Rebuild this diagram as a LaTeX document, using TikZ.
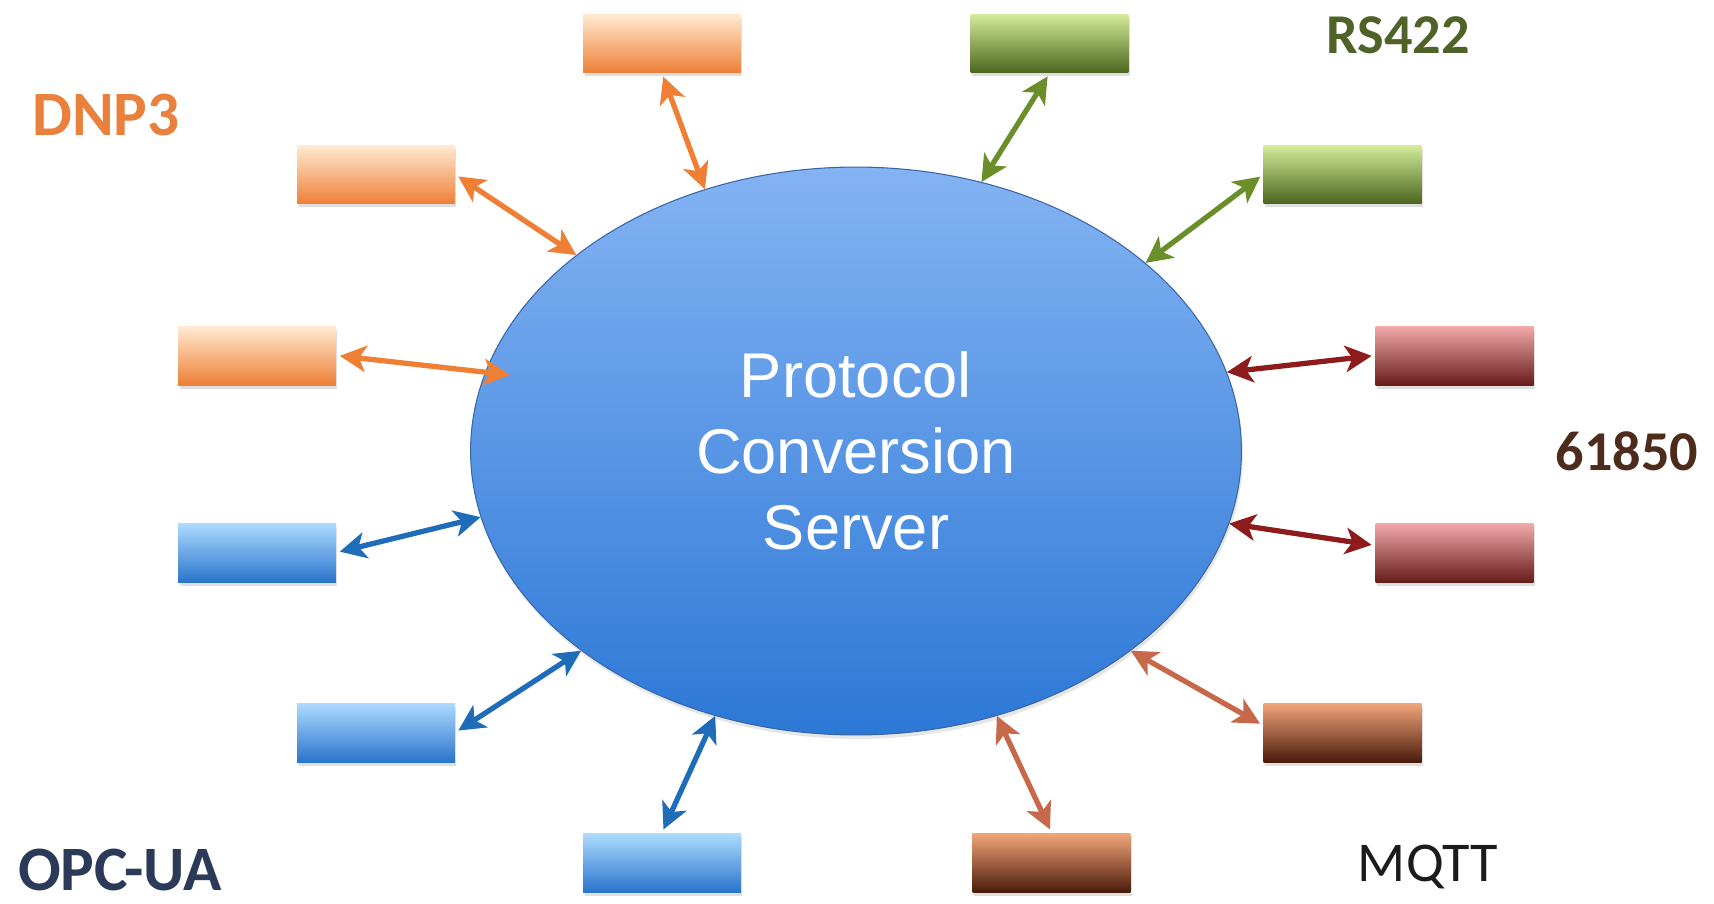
\documentclass[tikz,border=0pt]{standalone}
\usepackage{fontspec}
\usetikzlibrary{arrows.meta, shapes.geometric, shadows}
\newfontfamily\lblfont{Carlito}
\newfontfamily\srvfont{Liberation Sans}
\definecolor{srvTop}{HTML}{84B3F3}
\definecolor{srvBot}{HTML}{2C78D6}
\definecolor{srvEdge}{HTML}{3A66A8}
\definecolor{orTop}{HTML}{FFEBD2}
\definecolor{orBot}{HTML}{EE7F36}
\definecolor{orLine}{HTML}{EE7F35}
\definecolor{blTop}{HTML}{AEDCFF}
\definecolor{blBot}{HTML}{2A74CC}
\definecolor{blLine}{HTML}{1F6DB8}
\definecolor{grTop}{HTML}{D4EC9A}
\definecolor{grBot}{HTML}{4A661E}
\definecolor{grLine}{HTML}{6A8E2A}
\definecolor{rdTop}{HTML}{F4AAAA}
\definecolor{rdBot}{HTML}{681C1C}
\definecolor{rdLine}{HTML}{8E1C1C}
\definecolor{brTop}{HTML}{F4A67A}
\definecolor{brBot}{HTML}{4A1C0C}
\definecolor{brLine}{HTML}{C8684A}
\definecolor{dnpText}{HTML}{E9803C}
\definecolor{rsText}{HTML}{4F6228}
\definecolor{iecText}{HTML}{4E2C1C}
\definecolor{mqttText}{HTML}{1C1C1C}
\definecolor{opcText}{HTML}{2B3A58}

\begin{document}
\begin{tikzpicture}[x=0.02cm, y=-0.02cm,
    port/.style={rectangle, minimum width=3.16cm, minimum height=1.18cm, inner sep=0pt,
        drop shadow={opacity=0.25, shadow xshift=0.03cm, shadow yshift=-0.07cm}},
    link/.style={line width=3pt, shorten <=2pt,
        {Stealth[length=15pt, width=15pt, inset=4pt]}-{Stealth[length=15pt, width=15pt, inset=4pt]}},
    proto/.style={inner sep=1pt, font=\lblfont\bfseries\fontsize{32}{36}\selectfont}]
    \useasboundingbox (0,0) rectangle (1714,903);

    % server
    \node[ellipse, minimum width=15.42cm, minimum height=11.36cm, inner sep=0pt,
        draw=srvEdge, line width=0.6pt, top color=srvTop, bottom color=srvBot,
        drop shadow={opacity=0.2, shadow xshift=0.03cm, shadow yshift=-0.08cm},
        text=white, align=center, font=\srvfont\fontsize{36}{43.4}\selectfont]
        (srv) at (856,451) {Protocol\\Conversion\\Server};

    % DNP3
    \node[port, top color=orTop, bottom color=orBot] (o1) at (662,43.5) {};
    \node[port, top color=orTop, bottom color=orBot] (o2) at (376,174.5) {};
    \node[port, top color=orTop, bottom color=orBot] (o3) at (257,355.5) {};
    % OPC-UA
    \node[port, top color=blTop, bottom color=blBot] (b1) at (257,552.5) {};
    \node[port, top color=blTop, bottom color=blBot] (b2) at (376,732.5) {};
    \node[port, top color=blTop, bottom color=blBot] (b3) at (662,862.5) {};
    % RS422
    \node[port, top color=grTop, bottom color=grBot] (g1) at (1049.5,43.5) {};
    \node[port, top color=grTop, bottom color=grBot] (g2) at (1342.5,174.5) {};
    % 61850
    \node[port, top color=rdTop, bottom color=rdBot] (r1) at (1454.5,355.5) {};
    \node[port, top color=rdTop, bottom color=rdBot] (r2) at (1454.5,552.5) {};
    % MQTT
    \node[port, top color=brTop, bottom color=brBot] (m1) at (1342.5,732.5) {};
    \node[port, top color=brTop, bottom color=brBot] (m2) at (1051.5,862.5) {};

    \draw[link, orLine] (o1.south) -- (srv.120);
    \draw[link, orLine] (o2.east) -- (srv.145);
    \draw[link, orLine, shorten >=-0.5cm] (o3.east) -- (srv.168);
    \draw[link, blLine] (b1.east) -- (srv.190);
    \draw[link, blLine] (b2.east) -- (srv.216);
    \draw[link, blLine] (b3.north) -- (srv.242);
    \draw[link, grLine] (g1.south) -- (srv.65);
    \draw[link, grLine] (g2.west) -- (srv.33.5);
    \draw[link, rdLine] (r1.west) -- (srv.12);
    \draw[link, rdLine] ([yshift=4pt]r2.west) -- (srv.-11);
    \draw[link, brLine] ([yshift=4pt]m1.west) -- (srv.-36.6);
    \draw[link, brLine] (m2.north) -- (srv.-62);

    % protocol names
    \node[proto, text=dnpText, font=\lblfont\bfseries\fontsize{36}{40}\selectfont] (dnp) at (106,115) {DNP3};
    \node[proto, text=rsText] (rs) at (1398,35) {RS422};
    \node[proto, text=iecText] (iec) at (1627,451) {61850};
    \node[proto, text=mqttText, font=\lblfont\fontsize{32}{36}\selectfont] (mqtt) at (1428,867) {MQTT};
    \node[proto, text=opcText, font=\lblfont\bfseries\fontsize{36}{40}\selectfont] (opc) at (120,870) {OPC-UA};
\end{tikzpicture}
\end{document}
